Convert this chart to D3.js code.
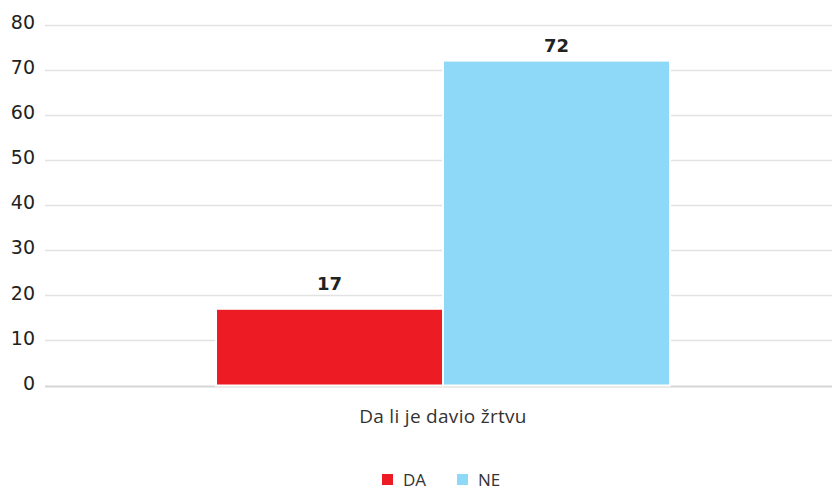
<!DOCTYPE html>
<html>
<head>
<meta charset="utf-8">
<script src="https://cdn.jsdelivr.net/npm/d3@7"></script>
<style>
  html, body { margin: 0; padding: 0; background: #fff; }
  svg { display: block; }
</style>
</head>
<body>
<svg id="chart" width="832" height="490"></svg>
<script>
// Chart data
const categories = ["Da li je davio žrtvu"];
const seriesNames = ["DA", "NE"];
const seriesValues = [[17], [72]];
const seriesColors = ["#ED1C24", "#8ED8F8"];
const yTicks = [0, 10, 20, 30, 40, 50, 60, 70, 80];

const svg = d3.select("#chart");
const W = 832, H = 490;
const plot = { left: 45, right: 841, top: 24.5, bottom: 385.5 };

const y = d3.scaleLinear().domain([0, 80]).range([plot.bottom, plot.top]);
const x0 = d3.scaleBand().domain(categories).range([plot.left, plot.right])
  .paddingInner(0).paddingOuter(0.3767);
const x1 = d3.scaleBand().domain(seriesNames).range([0, x0.bandwidth()]).padding(0);

// Y axis labels
const yAxis = d3.axisLeft(y).tickValues(yTicks).tickSize(0).tickPadding(10);
const gAxis = svg.append("g").attr("transform", `translate(${plot.left},0)`).call(yAxis);
gAxis.select(".domain").remove();
gAxis.selectAll("text")
  .attr("font-family", "'DejaVu Sans', sans-serif")
  .attr("font-size", 19)
  .attr("fill", "#222")
  .attr("dy", "0.2em");

// Grid lines
svg.append("g").selectAll("line")
  .data(yTicks)
  .join("line")
  .attr("x1", plot.left).attr("x2", W)
  .attr("y1", d => Math.round(y(d)) + 0.5).attr("y2", d => Math.round(y(d)) + 0.5)
  .attr("stroke", d => d === 0 ? "#d6d6d6" : "#e2e2e2")
  .attr("stroke-width", d => d === 0 ? 2 : 1.5);

// Bars
const groups = svg.append("g").selectAll("g")
  .data(categories)
  .join("g")
  .attr("transform", d => `translate(${x0(d)},0)`);

groups.selectAll("rect")
  .data((d, i) => seriesNames.map((s, j) => ({ s, v: seriesValues[j][i], c: seriesColors[j] })))
  .join("rect")
  .attr("x", d => x1(d.s))
  .attr("width", x1.bandwidth())
  .attr("y", d => y(d.v))
  .attr("height", d => y(0) - y(d.v))
  .attr("fill", d => d.c)
  .attr("stroke", "#fff")
  .attr("stroke-width", 2);

// Value labels, kept inside the plot area near the top
groups.selectAll("text.val")
  .data((d, i) => seriesNames.map((s, j) => ({ s, v: seriesValues[j][i] })))
  .join("text")
  .attr("class", "val")
  .attr("x", d => x1(d.s) + x1.bandwidth() / 2)
  .attr("y", d => Math.max(y(d.v) - 19, plot.top + 27.5))
  .attr("text-anchor", "middle")
  .attr("font-family", "'DejaVu Sans', sans-serif")
  .attr("font-size", 18)
  .attr("font-weight", 700)
  .attr("fill", "#222")
  .text(d => d.v);

// Category label
svg.append("g").selectAll("text")
  .data(categories)
  .join("text")
  .attr("x", d => x0(d) + x0.bandwidth() / 2)
  .attr("y", 423)
  .attr("text-anchor", "middle")
  .attr("font-family", "'Open Sans', 'Noto Sans', sans-serif")
  .attr("font-size", 19)
  .attr("letter-spacing", 0.3)
  .attr("fill", "#333")
  .text(d => d);

// Legend
const legendX = [382, 457];
const legend = svg.append("g").selectAll("g")
  .data(seriesNames)
  .join("g")
  .attr("transform", (d, i) => `translate(${legendX[i]},474)`);
legend.append("rect")
  .attr("width", 11).attr("height", 11)
  .attr("fill", (d, i) => seriesColors[i]);
legend.append("text")
  .attr("x", 21).attr("y", 12)
  .attr("font-family", "'Open Sans', 'Noto Sans', sans-serif")
  .attr("font-size", 17)
  .attr("fill", "#333")
  .text(d => d);
</script>
</body>
</html>
